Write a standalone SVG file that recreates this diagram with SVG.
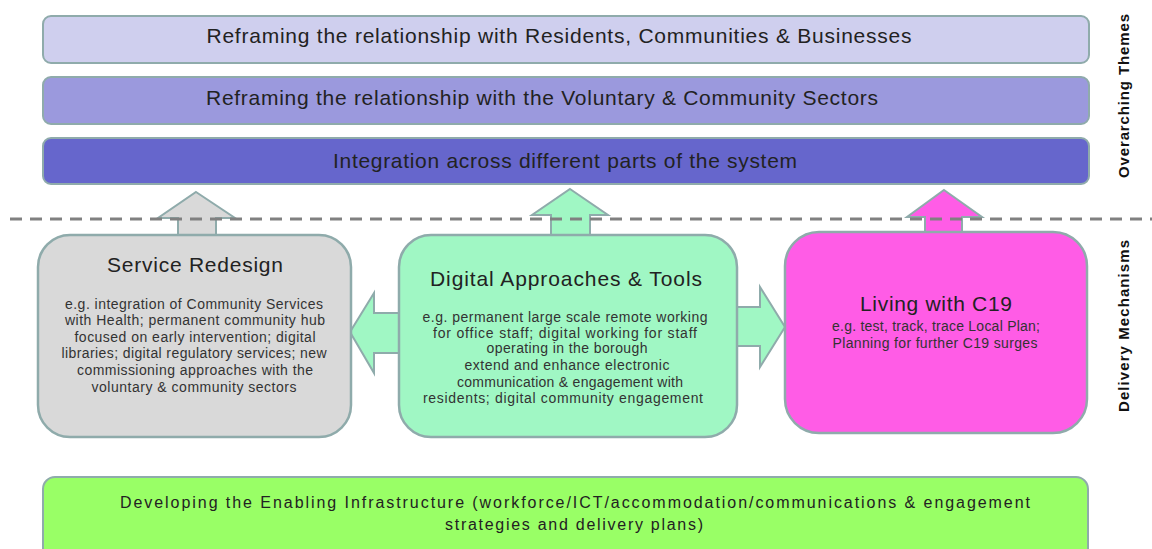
<svg xmlns="http://www.w3.org/2000/svg" width="1152" height="549" viewBox="0 0 1152 549">
  <style>
    .bar { stroke: #8fabab; stroke-width: 2; }
    .box { stroke: #8fabab; stroke-width: 2.5; }
    .arrow { stroke: #8fabab; stroke-width: 2; stroke-linejoin: miter; }
    text { font-family: "Liberation Sans", Arial, sans-serif; fill: #222; }
    .theme { font-size: 21px; text-anchor: middle; }
    .title { font-size: 21px; text-anchor: middle; }
    .body { font-size: 14px; text-anchor: middle; fill: #333; }
    .base { font-size: 16px; text-anchor: middle; fill: #222; }
    .side { font-size: 15px; font-weight: bold; text-anchor: middle; fill: #111; }
  </style>

  <rect width="1152" height="549" fill="#ffffff"/>

  <!-- Overarching themes -->
  <g id="theme-residents">
    <rect class="bar" x="43" y="16" width="1046" height="47" rx="8" fill="#cfcfee"/>
    <text class="theme" x="559" y="43" textLength="705" lengthAdjust="spacing">Reframing the relationship with Residents, Communities &amp; Businesses</text>
  </g>
  <g id="theme-voluntary">
    <rect class="bar" x="43" y="77" width="1046" height="47" rx="8" fill="#9b99dd"/>
    <text class="theme" x="542" y="105" textLength="672" lengthAdjust="spacing">Reframing the relationship with the Voluntary &amp; Community Sectors</text>
  </g>
  <g id="theme-integration">
    <rect class="bar" x="43" y="138" width="1046" height="46" rx="8" fill="#6666cc"/>
    <text class="theme" x="565" y="168" textLength="464" lengthAdjust="spacing">Integration across different parts of the system</text>
  </g>

  <!-- Section labels -->
  <g id="label-themes">
    <text class="side" transform="translate(1129,96) rotate(-90)" textLength="164" lengthAdjust="spacing">Overarching Themes</text>
  </g>
  <g id="label-mechanisms">
    <text class="side" transform="translate(1129,326) rotate(-90)" textLength="172" lengthAdjust="spacing">Delivery Mechanisms</text>
  </g>

  <!-- Connectors: block arrows -->
  <g id="connectors">
    <polygon class="arrow" fill="#d9d9d9" points="196,192 235,218 216,218 216,236 178,236 178,218 158,218"/>
    <polygon class="arrow" fill="#a0f7c4" points="570,189 608,215 590,215 590,236 551,236 551,215 532,215"/>
    <polygon class="arrow" fill="#ff5ce6" points="944,190 982,217 962,217 962,233 925,233 925,217 907,217"/>
    <polygon class="arrow" fill="#a0f7c4" points="350,332 374,293 374,313 399,313 399,353 374,353 374,373"/>
    <polygon class="arrow" fill="#a0f7c4" points="785,327 760,287 760,307 736,307 736,346 760,346 760,367"/>
  </g>

  <!-- Divider between themes and mechanisms -->
  <line x1="10" y1="219" x2="1152" y2="219" stroke="#808080" stroke-width="3" stroke-dasharray="12 8"/>

  <!-- Delivery mechanisms -->
  <g id="service-redesign">
    <rect class="box" x="38" y="235" width="313" height="202" rx="32" fill="#d9d9d9"/>
    <text class="title" x="195" y="272" textLength="176" lengthAdjust="spacing">Service Redesign</text>
    <text class="body" x="194" y="309" textLength="258" lengthAdjust="spacing">e.g. integration of Community Services</text>
    <text class="body" x="195" y="325" textLength="260" lengthAdjust="spacing">with Health; permanent community hub</text>
    <text class="body" x="195" y="342" textLength="241" lengthAdjust="spacing">focused on early intervention;  digital</text>
    <text class="body" x="194" y="358" textLength="265" lengthAdjust="spacing">libraries; digital regulatory services; new</text>
    <text class="body" x="195" y="375" textLength="236" lengthAdjust="spacing">commissioning approaches with the</text>
    <text class="body" x="194" y="392" textLength="205" lengthAdjust="spacing">voluntary  &amp; community sectors</text>
  </g>

  <g id="digital-approaches">
    <rect class="box" x="399" y="235" width="338" height="202" rx="32" fill="#a0f7c4"/>
    <text class="title" x="566" y="286" textLength="272" lengthAdjust="spacing">Digital Approaches &amp; Tools</text>
    <text class="body" x="565" y="322" textLength="285" lengthAdjust="spacing">e.g. permanent large scale remote working</text>
    <text class="body" x="565" y="338" textLength="264" lengthAdjust="spacing">for office staff; digital working for staff</text>
    <text class="body" x="567" y="353" textLength="161" lengthAdjust="spacing">operating in the borough</text>
    <text class="body" x="567" y="370" textLength="205" lengthAdjust="spacing">extend and enhance electronic</text>
    <text class="body" x="570" y="387" textLength="226" lengthAdjust="spacing">communication &amp; engagement with</text>
    <text class="body" x="563" y="403" textLength="280" lengthAdjust="spacing">residents; digital community engagement</text>
  </g>

  <g id="living-with-c19">
    <rect class="box" x="785" y="232" width="302" height="201" rx="34" fill="#ff5ce6"/>
    <text class="title" x="936" y="311" textLength="152" lengthAdjust="spacing">Living with C19</text>
    <text class="body" x="936" y="331" textLength="208" lengthAdjust="spacing">e.g. test, track, trace Local Plan;</text>
    <text class="body" x="935" y="348" textLength="205" lengthAdjust="spacing">Planning for further  C19 surges</text>
  </g>

  <!-- Enabling infrastructure -->
  <g id="enabling-infrastructure">
    <rect class="bar" x="43" y="477" width="1045" height="90" rx="12" fill="#99ff66"/>
    <text class="base" x="575" y="508" textLength="910" lengthAdjust="spacing">Developing the Enabling Infrastructure (workforce/ICT/accommodation/communications  &amp; engagement</text>
    <text class="base" x="574" y="530" textLength="258" lengthAdjust="spacing">strategies and delivery plans)</text>
  </g>
</svg>
